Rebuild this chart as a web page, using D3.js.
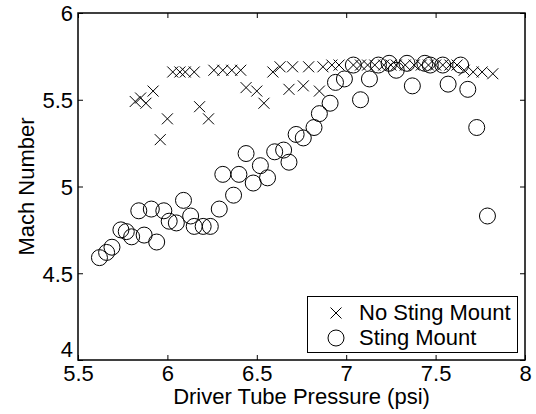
<!DOCTYPE html>
<html>
<head>
<meta charset="utf-8">
<script src="https://cdn.jsdelivr.net/npm/d3@7"></script>
<style>
  html, body { margin: 0; padding: 0; background: #fff; }
  svg text { font-family: "Liberation Sans", Arial, Helvetica, sans-serif; fill: #000; }
</style>
</head>
<body>
<svg id="chart" width="536" height="414"></svg>
<script>
// ---- data ----
const noStingPressure = [5.82,5.85,5.88,5.92,5.96,6.00,6.03,6.07,6.10,6.15,6.18,6.23,6.26,6.31,6.36,6.41,
  6.44,6.50,6.54,6.59,6.63,6.68,6.70,6.76,6.79,6.85,6.87,6.92,6.96,7.04,7.08,7.12,7.16,7.21,7.25,7.28,
  7.33,7.38,7.42,7.46,7.50,7.54,7.58,7.62,7.66,7.71,7.76,7.82];
const noStingMach = [5.49,5.51,5.48,5.55,5.27,5.39,5.66,5.66,5.66,5.66,5.46,5.39,5.67,5.67,5.67,5.67,
  5.57,5.55,5.48,5.66,5.69,5.56,5.69,5.58,5.69,5.55,5.69,5.70,5.70,5.70,5.70,5.70,5.70,5.70,5.70,5.70,
  5.70,5.70,5.70,5.70,5.70,5.70,5.70,5.70,5.67,5.66,5.66,5.65];
const stingPressure = [5.62,5.66,5.69,5.74,5.77,5.80,5.84,5.87,5.91,5.94,5.98,6.01,6.05,6.09,6.13,6.15,
  6.20,6.24,6.29,6.31,6.37,6.40,6.44,6.48,6.52,6.56,6.60,6.65,6.68,6.72,6.76,6.82,6.85,6.91,6.94,6.99,
  7.04,7.08,7.13,7.18,7.24,7.28,7.34,7.37,7.44,7.47,7.54,7.57,7.64,7.68,7.73,7.79];
const stingMach = [4.59,4.62,4.65,4.75,4.74,4.71,4.86,4.72,4.87,4.68,4.86,4.80,4.79,4.92,4.83,4.77,
  4.77,4.77,4.87,5.07,4.95,5.07,5.19,5.02,5.12,5.05,5.20,5.21,5.14,5.30,5.28,5.34,5.42,5.48,5.60,5.62,
  5.70,5.50,5.62,5.70,5.71,5.67,5.71,5.58,5.71,5.70,5.70,5.59,5.70,5.56,5.34,4.83];
const xTicks = [5.5, 6, 6.5, 7, 7.5, 8];
const yTicks = [4, 4.5, 5, 5.5, 6];
const seriesNames = ["No Sting Mount", "Sting Mount"];
const xLabel = "Driver Tube Pressure (psi)";
const yLabel = "Mach Number";

// ---- layout ----
const L = 78, R = 525, T = 13, B = 360;
const svg = d3.select("#chart");
const x = d3.scaleLinear().domain([5.5, 8]).range([L, R]);
const y = d3.scaleLinear().domain([4, 6]).range([B, T]);
const fs = 22;
const tickLen = 5;

// axes with inward ticks
const gx = svg.append("g").attr("transform", `translate(0,${B})`)
  .call(d3.axisBottom(x).tickValues(xTicks).tickFormat(d3.format("")).tickSizeInner(-tickLen).tickSizeOuter(0).tickPadding(5));
const gxt = svg.append("g").attr("transform", `translate(0,${T})`)
  .call(d3.axisTop(x).tickValues(xTicks).tickFormat("").tickSizeInner(-tickLen).tickSizeOuter(0));
const gy = svg.append("g").attr("transform", `translate(${L},0)`)
  .call(d3.axisLeft(y).tickValues(yTicks).tickFormat(d3.format("")).tickSizeInner(-tickLen).tickSizeOuter(0).tickPadding(5));
const gyr = svg.append("g").attr("transform", `translate(${R},0)`)
  .call(d3.axisRight(y).tickValues(yTicks).tickFormat("").tickSizeInner(-tickLen).tickSizeOuter(0));
[gx, gxt, gy, gyr].forEach(g => {
  g.select(".domain").remove();
  g.selectAll("line").attr("stroke", "#000").attr("stroke-width", 1);
  g.selectAll("text").attr("font-size", fs).attr("font-family", "Liberation Sans, Arial, sans-serif").attr("fill", "#000");
});
gx.selectAll("text").attr("dy", "0.72em");
gy.selectAll("text").attr("dy", "0.36em");
// lift the bottom "4" so it sits just above "5.5", as in the reference
gy.selectAll("text").filter(d => d === 4).attr("dy", "-0.14em");

// box
svg.append("rect").attr("x", L).attr("y", T).attr("width", R - L).attr("height", B - T)
  .attr("fill", "none").attr("stroke", "#000").attr("stroke-width", 1.5);

// markers
const cs = 5.5, cr = 8;
const crossPath = (cx, cy) => `M${cx-cs},${cy-cs}L${cx+cs},${cy+cs}M${cx-cs},${cy+cs}L${cx+cs},${cy-cs}`;
const plot = svg.append("g");
plot.selectAll("path.nost").data(d3.zip(noStingPressure, noStingMach)).join("path")
  .attr("class", "nost")
  .attr("d", d => crossPath(x(d[0]), y(d[1])))
  .attr("stroke", "#000").attr("stroke-width", 1).attr("fill", "none");
plot.selectAll("circle.st").data(d3.zip(stingPressure, stingMach)).join("circle")
  .attr("class", "st")
  .attr("cx", d => x(d[0])).attr("cy", d => y(d[1])).attr("r", cr)
  .attr("stroke", "#000").attr("stroke-width", 1).attr("fill", "none");

// legend
const lg = svg.append("g");
lg.append("rect").attr("x", 307.5).attr("y", 296.5).attr("width", 210).attr("height", 56)
  .attr("fill", "#fff").attr("stroke", "#000").attr("stroke-width", 1);
lg.append("path").attr("d", crossPath(336, 313)).attr("stroke", "#000").attr("stroke-width", 1);
lg.append("circle").attr("cx", 336).attr("cy", 338).attr("r", cr).attr("fill", "none").attr("stroke", "#000");
lg.append("text").attr("x", 359).attr("y", 320).attr("font-size", fs).text(seriesNames[0]);
lg.append("text").attr("x", 359).attr("y", 345).attr("font-size", fs).text(seriesNames[1]);

// axis labels
svg.append("text").attr("x", (L + R) / 2).attr("y", 404).attr("text-anchor", "middle")
  .attr("font-size", fs).text(xLabel);
svg.append("text").attr("transform", `translate(34,${(T + B) / 2}) rotate(-90)`)
  .attr("text-anchor", "middle").attr("font-size", fs).text(yLabel);
</script>
</body>
</html>
